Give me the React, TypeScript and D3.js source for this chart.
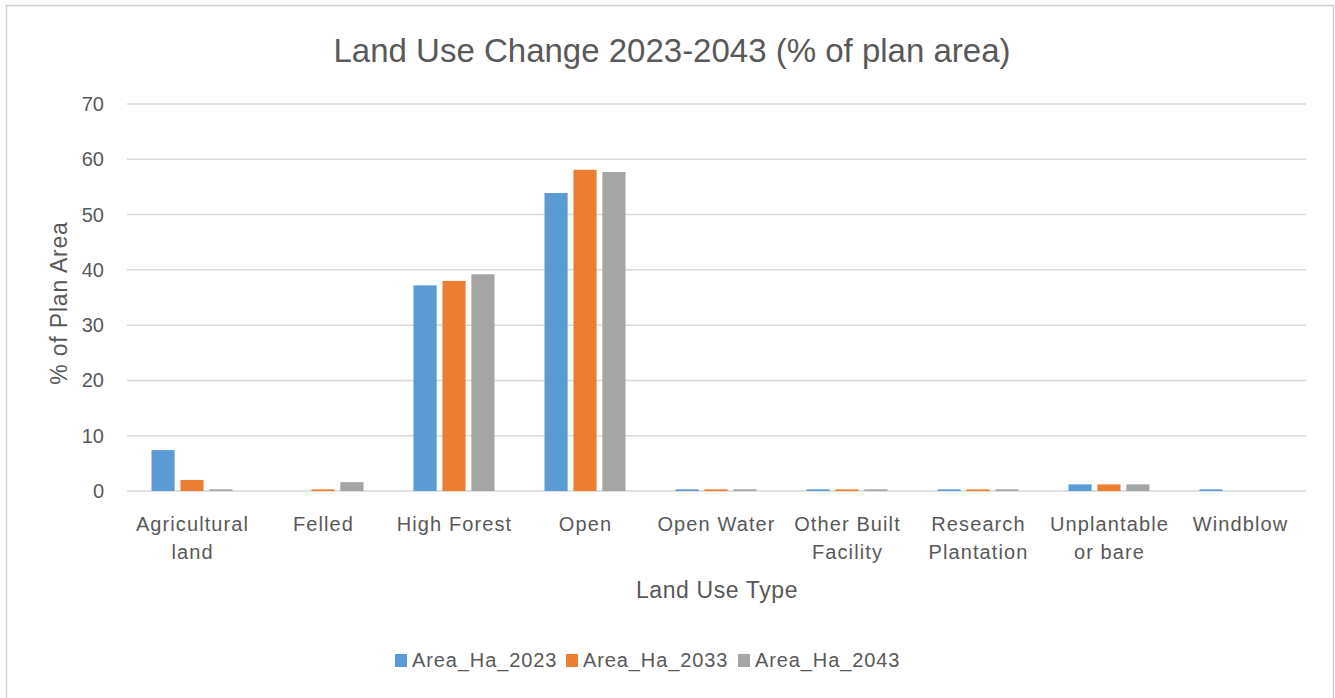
import React, { useRef, useEffect } from 'react';
import * as d3 from 'd3';

const categories = [
  ['Agricultural', 'land'],
  ['Felled'],
  ['High Forest'],
  ['Open'],
  ['Open Water'],
  ['Other Built', 'Facility'],
  ['Research', 'Plantation'],
  ['Unplantable', 'or bare'],
  ['Windblow'],
];
const seriesNames = ['Area_Ha_2023', 'Area_Ha_2033', 'Area_Ha_2043'];
const colors = ['#5b9bd5', '#ed7d31', '#a5a5a5'];
const values2023 = [7.4, 0, 37.2, 53.9, 0.3, 0.3, 0.3, 1.2, 0.3];
const values2033 = [2.0, 0.3, 38.0, 58.1, 0.3, 0.3, 0.3, 1.2, 0];
const values2043 = [0.3, 1.6, 39.2, 57.7, 0.3, 0.3, 0.3, 1.2, 0];
const yTicks = [0, 10, 20, 30, 40, 50, 60, 70];

const W = 1335;
const H = 698;
const FONT = "'Liberation Sans', Arial, sans-serif";
const TXT = '#595959';

const Chart: React.FC = () => {
  const svgRef = useRef<SVGSVGElement>(null);

  useEffect(() => {
    if (!svgRef.current) return;
    const svg = d3.select(svgRef.current);
    svg.selectAll('*').remove();

    const left = 127, right = 1306, top = 104, bottom = 491;
    const series = [values2023, values2033, values2043];
    const keys = categories.map(c => c.join(' '));

    const x = d3.scaleBand<string>().domain(keys).range([left, right]);
    const x1 = d3.scaleBand<number>().domain([0, 1, 2]).range([0, 81]).paddingInner(0.2);
    const y = d3.scaleLinear().domain([0, 70]).range([bottom, top]);

    // outer frame (bottom edge runs off the picture)
    svg.append('path')
      .attr('d', `M6.5,${H} V5.5 H1333.5 V${H}`)
      .attr('fill', 'none').attr('stroke', '#d0d0d0').attr('stroke-width', 1.5);

    // grid
    svg.append('g').selectAll('line').data(yTicks).join('line')
      .attr('x1', left).attr('x2', right)
      .attr('y1', d => y(d)).attr('y2', d => y(d))
      .attr('stroke', '#d9d9d9').attr('stroke-width', 1.5);

    // y tick labels
    svg.append('g').selectAll('text').data(yTicks).join('text')
      .attr('x', 104).attr('y', d => y(d) + 7)
      .attr('text-anchor', 'end')
      .attr('font-family', FONT).attr('font-size', 20).attr('fill', TXT)
      .text(d => d);

    // bars
    series.forEach((vals, si) => {
      svg.append('g').selectAll('rect').data(vals).join('rect')
        .attr('x', (_, i) => (x(keys[i]) as number) + x.bandwidth() / 2 - 41 + (x1(si) as number))
        .attr('width', x1.bandwidth())
        .attr('y', d => y(d))
        .attr('height', d => y(0) - y(d))
        .attr('fill', colors[si]);
    });

    // category labels
    const catG = svg.append('g');
    categories.forEach((lines, i) => {
      const t = catG.append('text')
        .attr('text-anchor', 'middle')
        .attr('font-family', FONT).attr('font-size', 20).attr('letter-spacing', 1.1)
        .attr('fill', TXT);
      lines.forEach((ln, li) => {
        t.append('tspan')
          .attr('x', (x(keys[i]) as number) + x.bandwidth() / 2)
          .attr('y', 531 + li * 28)
          .text(ln);
      });
    });

    // title
    svg.append('text')
      .attr('x', 672).attr('y', 62).attr('text-anchor', 'middle')
      .attr('font-family', FONT).attr('font-size', 33).attr('fill', TXT)
      .text('Land Use Change 2023-2043 (% of plan area)');

    svg.append('text')
      .attr('x', 717).attr('y', 598).attr('text-anchor', 'middle')
      .attr('font-family', FONT).attr('font-size', 23).attr('letter-spacing', 0.6)
      .attr('fill', TXT)
      .text('Land Use Type');

    svg.append('text')
      .attr('transform', `translate(67, 303) rotate(-90)`)
      .attr('text-anchor', 'middle')
      .attr('font-family', FONT).attr('font-size', 23).attr('letter-spacing', 0.8)
      .attr('fill', TXT)
      .text('% of Plan Area');

    // legend
    const legendX = [395, 566, 738];
    seriesNames.forEach((name, i) => {
      svg.append('rect')
        .attr('x', legendX[i]).attr('y', 654).attr('width', 12).attr('height', 13)
        .attr('fill', colors[i]);
      svg.append('text')
        .attr('x', legendX[i] + 17).attr('y', 667)
        .attr('font-family', FONT).attr('font-size', 20).attr('letter-spacing', 0.9)
        .attr('fill', TXT)
        .text(name);
    });
  }, []);

  return (
    <svg
      ref={svgRef}
      width={W}
      height={H}
      style={{ position: 'absolute', left: 0, top: 0, display: 'block', background: '#fff' }}
    />
  );
};

export default function App() {
  return <Chart />;
}
